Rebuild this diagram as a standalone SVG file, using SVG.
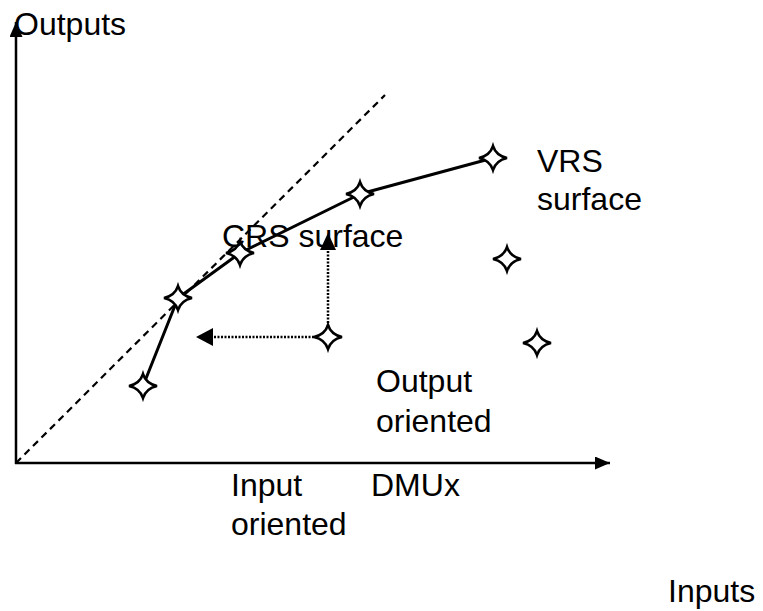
<svg xmlns="http://www.w3.org/2000/svg" width="763" height="611" viewBox="0 0 763 611">
  <style>
    .lbl { font-family: "Liberation Sans", Arial, sans-serif; font-size: 32px; fill: #000; }
    .axis { stroke: #000; stroke-width: 2.5; fill: none; }
    .dash { stroke: #000; stroke-width: 2.2; stroke-dasharray: 7 5; fill: none; }
    .dot { stroke: #000; stroke-width: 2.5; stroke-dasharray: 2 1.5; fill: none; }
    .head { fill: #000; stroke: none; }
    .front { stroke: #000; stroke-width: 3; fill: none; stroke-linejoin: round; }
    .star { fill: #fff; stroke: #000; stroke-width: 2.5; stroke-linejoin: miter; }
  </style>
  <defs>
    <marker id="ah" viewBox="0 0 10 10" refX="10" refY="5" markerWidth="15" markerHeight="13" markerUnits="userSpaceOnUse" orient="auto" preserveAspectRatio="none">
      <path d="M0,0 L10,5 L0,10 Z" fill="#000"/>
    </marker>
    <path id="st" d="M-14,0 Q-3,-2.5 0,-12 Q3,-2.5 14,0 Q3,2.5 0,12 Q-3,2.5 -14,0 Z"/>
  </defs>
  <rect width="763" height="611" fill="#fff"/>
  <g id="connectors">
    <line class="axis" x1="16" y1="464" x2="16" y2="22" marker-end="url(#ah)"/>
    <line class="axis" x1="15" y1="463" x2="610" y2="463" marker-end="url(#ah)"/>
    <line class="dash" x1="16" y1="463" x2="385" y2="95"/>
    <polyline class="front" points="143,386 178,298 240,253 360,194 493,158"/>
    <line class="dot" x1="328" y1="337" x2="328" y2="248"/>
    <polygon class="head" points="328,233 320,250 336,250"/>
    <line class="dot" x1="328" y1="337" x2="211" y2="337"/>
    <polygon class="head" points="196,337 213,328 213,346"/>
  </g>
  <g id="dmu1"><use href="#st" class="star" x="143" y="386"/></g>
  <g id="dmu2"><use href="#st" class="star" x="178" y="298"/></g>
  <g id="dmu3"><use href="#st" class="star" x="240" y="253"/></g>
  <g id="dmu4"><use href="#st" class="star" x="360" y="194"/></g>
  <g id="dmu5"><use href="#st" class="star" x="493" y="158"/></g>
  <g id="dmu6"><use href="#st" class="star" x="507" y="259"/></g>
  <g id="dmu7"><use href="#st" class="star" x="537" y="343"/></g>
  <g id="dmux"><use href="#st" class="star" x="328" y="337"/></g>
  <g id="labels">
    <text class="lbl" x="14" y="35">Outputs</text>
    <text class="lbl" x="537" y="172">VRS</text>
    <text class="lbl" x="537" y="210">surface</text>
    <text class="lbl" x="222" y="247">CRS surface</text>
    <text class="lbl" x="376" y="392">Output</text>
    <text class="lbl" x="376" y="432">oriented</text>
    <text class="lbl" x="231" y="496">Input</text>
    <text class="lbl" x="231" y="535">oriented</text>
    <text class="lbl" x="371" y="496">DMUx</text>
    <text class="lbl" x="668" y="602">Inputs</text>
  </g>
</svg>
